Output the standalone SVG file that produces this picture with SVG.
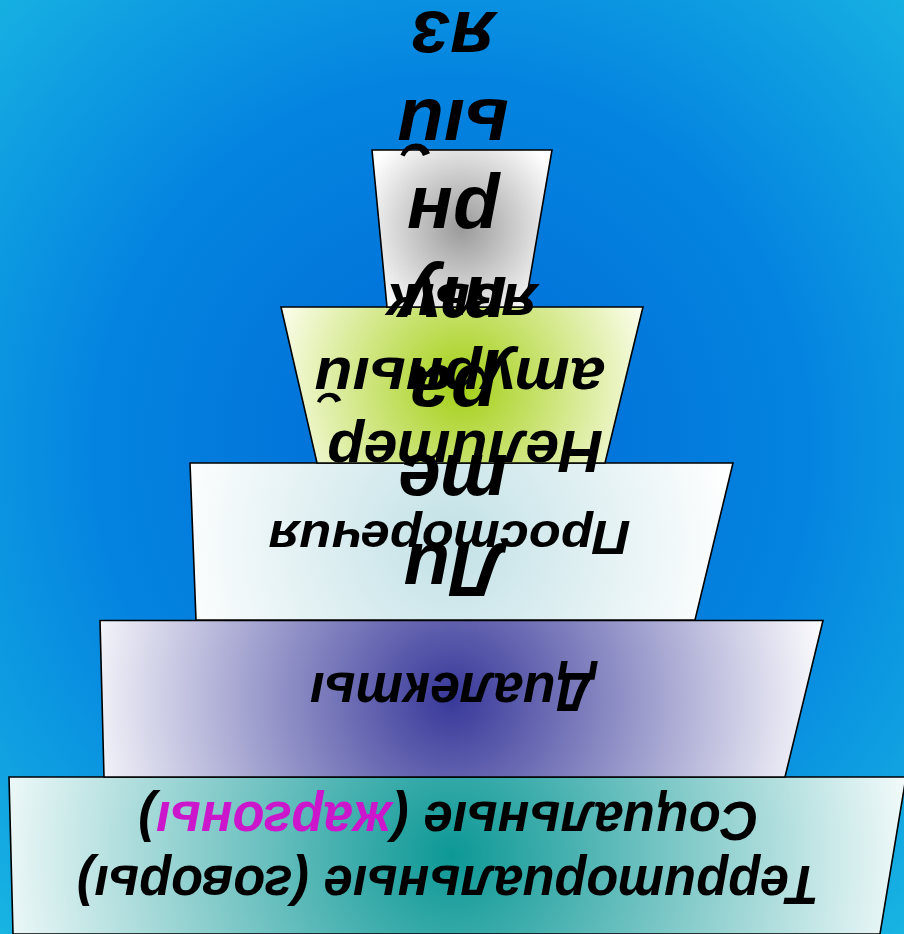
<svg xmlns="http://www.w3.org/2000/svg" width="904" height="934" viewBox="0 0 904 934">
<style>
.shape{stroke:#000;stroke-width:1.6;stroke-linejoin:miter}
.t{font-family:"Liberation Sans",Arial,sans-serif;font-weight:bold;font-style:italic;fill:#000;text-anchor:middle}
.mag{fill:#cc16cc}
</style>
<defs>
<radialGradient id="bg" cx="50%" cy="48%" r="72%">
<stop offset="0" stop-color="#006ad6"/>
<stop offset="0.55" stop-color="#0484e0"/>
<stop offset="1" stop-color="#18b4e2"/>
</radialGradient>
<radialGradient id="g1" gradientUnits="userSpaceOnUse" cx="462" cy="228" r="108">
<stop offset="0" stop-color="#9a9a9a"/>
<stop offset="1" stop-color="#ffffff"/>
</radialGradient>
<radialGradient id="g2" gradientUnits="userSpaceOnUse" cx="462" cy="385" r="195">
<stop offset="0" stop-color="#a4cf16"/>
<stop offset="1" stop-color="#fbfdec"/>
</radialGradient>
<radialGradient id="g3" gradientUnits="userSpaceOnUse" cx="452" cy="541" r="285">
<stop offset="0" stop-color="#c2e1e6"/>
<stop offset="1" stop-color="#ffffff"/>
</radialGradient>
<radialGradient id="g4" gradientUnits="userSpaceOnUse" cx="452" cy="699" r="375">
<stop offset="0" stop-color="#38389a"/>
<stop offset="1" stop-color="#fbfbfd"/>
</radialGradient>
<radialGradient id="g5" gradientUnits="userSpaceOnUse" cx="452" cy="855" r="460">
<stop offset="0" stop-color="#0c9896"/>
<stop offset="1" stop-color="#f2fafa"/>
</radialGradient>
</defs>
<rect x="0" y="0" width="904" height="934" fill="url(#bg)"/>
<g id="connectors"/>
<g id="node-social-territorial">
<polygon class="shape" fill="url(#g5)" points="9,777 906,777 880,934 13,934"/>
<text class="t" font-size="55" transform="rotate(180 452 467)" x="456" y="68" textLength="742" lengthAdjust="spacingAndGlyphs">Территориальные (говоры)</text>
<text class="t" font-size="55" transform="rotate(180 452 467)" x="455.5" y="132" textLength="620" lengthAdjust="spacingAndGlyphs">Социальные (<tspan class="mag">жаргоны</tspan>)</text>
</g>
<g id="node-dialects">
<polygon class="shape" fill="url(#g4)" points="100,620.5 823,620.5 785,777 104,777"/>
<text class="t" font-size="56" transform="rotate(180 452 467)" x="452" y="261" textLength="284" lengthAdjust="spacingAndGlyphs">Диалекты</text>
</g>
<g id="node-prostorechiya">
<polygon class="shape" fill="url(#g3)" points="190,463 733,463 695,620 196,620"/>
<text class="t" font-size="48" transform="rotate(180 452 467)" x="454.5" y="413" textLength="362" lengthAdjust="spacingAndGlyphs">Просторечия</text>
</g>
<g id="node-neliteraturny">
<polygon class="shape" fill="url(#g2)" points="281,307 643,307 605,463 317,463"/>
</g>
<g id="node-literaturny">
<polygon class="shape" fill="url(#g1)" points="372,150 552,150 525,307 387,307"/>
<text class="t" font-size="76" transform="rotate(180 452 467)"><tspan x="451" y="390">Ли</tspan><tspan x="451" y="479">те</tspan><tspan x="451" y="568">ра</tspan><tspan x="451" y="657">ту</tspan><tspan x="451" y="746">рн</tspan><tspan x="451" y="834">ый</tspan><tspan x="451" y="922">яз</tspan></text>
</g>
<g id="node-neliteraturny-label">
<text class="t" font-size="60" transform="rotate(180 452 467)"><tspan x="439" y="503" textLength="276" lengthAdjust="spacingAndGlyphs">Нелитер</tspan><tspan x="444.5" y="576" textLength="290" lengthAdjust="spacingAndGlyphs">атурный</tspan><tspan x="442" y="650" textLength="150" lengthAdjust="spacingAndGlyphs">язык</tspan></text>
</g>
</svg>
